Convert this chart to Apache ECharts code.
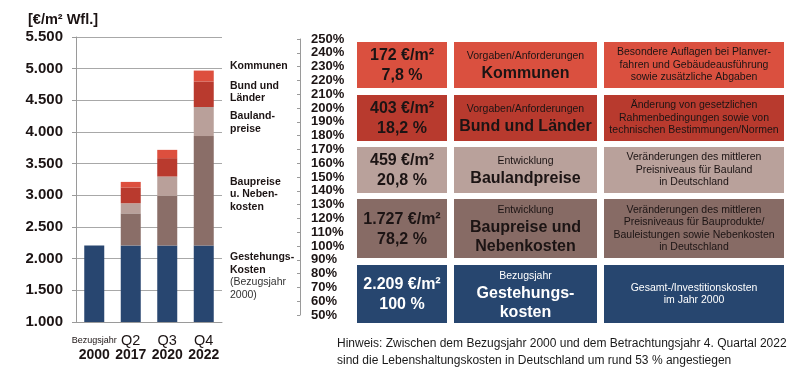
<!DOCTYPE html>
<html><head><meta charset="utf-8">
<script src="https://cdn.jsdelivr.net/npm/echarts@6/dist/echarts.min.js"></script>
<style>html,body{margin:0;padding:0;background:#fff}#c{width:809px;height:374px}</style>
</head><body><div id="c"></div>
<script>
// ---- data ----
const years = ['2000', '2017', '2020', '2022'];
const quarters = ['Bezugsjahr', 'Q2', 'Q3', 'Q4'];
const gestehung = [2209, 2209, 2209, 2209];
const baupreise = [0, 506, 782, 1727];
const bauland = [0, 160, 306, 459];
const bund = [0, 250, 290, 403];
const kommunen = [0, 87, 131, 172];
const seriesNames = ['Gestehungskosten', 'Baupreise u. Nebenkosten', 'Baulandpreise', 'Bund und Länder', 'Kommunen'];
const valueAxis = { min: 1000, max: 5500, step: 500 };
const pctAxis = { min: 50, max: 250, step: 10 };
const sideLabels = ['Kommunen', 'Bund und\nLänder', 'Bauland-\npreise', 'Baupreise\nu. Neben-\nkosten', 'Gestehungs-\nKosten'];
const sideNotes = ['', '', '', '', '(Bezugsjahr\n2000)'];
const boxValues = ['172 €/m²\n7,8 %', '403 €/m²\n18,2 %', '459 €/m²\n20,8 %', '1.727 €/m²\n78,2 %', '2.209 €/m²\n100 %'];
const boxSmall = ['Vorgaben/Anforderungen', 'Vorgaben/Anforderungen', 'Entwicklung', 'Entwicklung', 'Bezugsjahr'];
const boxBig = ['Kommunen', 'Bund und Länder', 'Baulandpreise', 'Baupreise und\nNebenkosten', 'Gestehungs-\nkosten'];
const boxDesc = [
  'Besondere Auflagen bei Planver-\nfahren und Gebäudeausführung\nsowie zusätzliche Abgaben',
  'Änderung von gesetzlichen\nRahmenbedingungen sowie von\ntechnischen Bestimmungen/Normen',
  'Veränderungen des mittleren\nPreisniveaus für Bauland\nin Deutschland',
  'Veränderungen des mittleren\nPreisniveaus für Bauprodukte/\nBauleistungen sowie Nebenkosten\nin Deutschland',
  'Gesamt-/Investitionskosten\nim Jahr 2000'
];
const unitLabel = '[€/m² Wfl.]';
const hint = 'Hinweis: Zwischen dem Bezugsjahr 2000 und dem Betrachtungsjahr 4. Quartal 2022\nsind die Lebenshaltungskosten in Deutschland um rund 53 % angestiegen';

// ---- styles ----
const FONT = '"Liberation Sans", Arial, sans-serif';
const colors = ['#284670', '#8A6E68', '#B9A09A', '#B93A2E', '#DD4F3E'];
const boxColors = ['#DA503F', '#B83A2E', '#B9A19B', '#876B65', '#27466F'];
const TXT = '#1c1414';

function fmt(v) { return String(v).replace(/\B(?=(\d{3})+(?!\d))/g, '.'); }

const chart = echarts.init(document.getElementById('c'), null, { renderer: 'canvas' });

const stacks = [gestehung, baupreise, bauland, bund, kommunen];
const series = stacks.map((d, i) => ({
  name: seriesNames[i], type: 'bar', stack: 'a', xAxisIndex: 0, yAxisIndex: 0,
  barWidth: 20, data: d, itemStyle: { color: colors[i] }, silent: true
}));

// graphic elements
const graphic = [];
graphic.push({ type: 'text', left: 28, top: 12, style: { text: unitLabel, font: 'bold 14.5px ' + FONT, fill: TXT } });

const sideY = [66, 92, 122.5, 194.3, 276];
sideLabels.forEach((t, i) => {
  const txt = t.split('\n').map(s => '{b|' + s + '}').join('\n') +
    (sideNotes[i] ? '\n' + sideNotes[i].split('\n').map(s => '{n|' + s + '}').join('\n') : '');
  graphic.push({
    type: 'text', x: 230, y: sideY[i],
    style: {
      text: txt, align: 'left', verticalAlign: 'middle', fill: TXT,
      rich: {
        b: { font: 'bold 10.5px ' + FONT, lineHeight: 12.5, fill: TXT },
        n: { font: '10.5px ' + FONT, lineHeight: 12.5, fill: '#333' }
      }
    }
  });
});

const rows = [[42, 88], [95, 141], [147, 193], [199, 258], [265, 323]];
const cols = [[357, 447], [454, 597], [604, 784]];
rows.forEach((r, i) => {
  const h = r[1] - r[0];
  const cy = (r[0] + r[1]) / 2;
  const fg = i === 4 ? '#ffffff' : TXT;
  cols.forEach((c) => {
    graphic.push({ type: 'rect', shape: { x: c[0], y: r[0], width: c[1] - c[0], height: h },
      style: { fill: boxColors[i] }, silent: true });
  });
  graphic.push({ type: 'text', x: (cols[0][0] + cols[0][1]) / 2, y: cy + 1,
    style: { text: boxValues[i], align: 'center', verticalAlign: 'middle', font: 'bold 16px ' + FONT, lineHeight: 20, fill: fg } });
  const big = boxBig[i].split('\n').map(s => '{b|' + s + '}').join('\n');
  graphic.push({ type: 'text', x: (cols[1][0] + cols[1][1]) / 2, y: cy + 1,
    style: { text: '{s|' + boxSmall[i] + '}\n' + big, align: 'center', verticalAlign: 'middle', fill: fg,
      rich: {
        s: { font: '10.5px ' + FONT, lineHeight: 16, fill: fg, align: 'center' },
        b: { font: 'bold 16px ' + FONT, lineHeight: 19, fill: fg, align: 'center' }
      } } });
  graphic.push({ type: 'text', x: (cols[2][0] + cols[2][1]) / 2, y: cy,
    style: { text: boxDesc[i], align: 'center', verticalAlign: 'middle', font: '10.5px ' + FONT, lineHeight: 12.4, fill: fg } });
});

graphic.push({ type: 'text', x: 337, y: 352,
  style: { text: hint, align: 'left', verticalAlign: 'middle', font: '12px ' + FONT, lineHeight: 17, fill: '#1a1a1a' } });

chart.setOption({
  animation: false,
  textStyle: { fontFamily: FONT },
  grid: [
    { left: 76, right: 809 - 222, top: 37, bottom: 374 - 322 },
    { left: 300, width: 2, top: 39, bottom: 374 - 315 }
  ],
  xAxis: [
    { type: 'category', gridIndex: 0, data: years,
      axisLine: { lineStyle: { color: '#9a9a9a', width: 1 } },
      axisTick: { show: false },
      axisLabel: {
        interval: 0, margin: 11,
        formatter: (v, idx) => (idx === 0 ? '{s|' + quarters[idx] + '}' : '{q|' + quarters[idx] + '}') + '\n{y|' + v + '}',
        rich: {
          s: { fontSize: 9, fontFamily: FONT, color: TXT, lineHeight: 15, height: 15, verticalAlign: 'bottom' },
          q: { fontSize: 14.5, fontFamily: FONT, color: TXT, lineHeight: 15, height: 15 },
          y: { fontSize: 14, fontWeight: 'bold', fontFamily: FONT, color: TXT, lineHeight: 15, height: 15 }
        }
      } },
    { type: 'value', gridIndex: 1, show: false, min: 0, max: 1 }
  ],
  yAxis: [
    { type: 'value', gridIndex: 0, min: valueAxis.min, max: valueAxis.max, interval: valueAxis.step,
      axisLine: { show: true, lineStyle: { color: '#9a9a9a' } },
      axisTick: { show: true, length: 4, lineStyle: { color: '#9a9a9a' } },
      splitLine: { show: true, lineStyle: { color: '#a8a8a8', width: 1 } },
      axisLabel: { formatter: fmt, margin: 13, color: TXT, fontSize: 15, fontWeight: 'bold', fontFamily: FONT } },
    { type: 'value', gridIndex: 1, position: 'right', min: pctAxis.min, max: pctAxis.max, interval: pctAxis.step,
      axisLine: { show: true, lineStyle: { color: '#9a9a9a' } },
      axisTick: { show: true, inside: true, length: 3, lineStyle: { color: '#9a9a9a' } },
      splitLine: { show: false },
      axisLabel: { formatter: v => v + '%', margin: 9, color: TXT, fontSize: 13, fontWeight: 'bold', fontFamily: FONT } }
  ],
  series: series,
  graphic: graphic
});
</script>
</body></html>
